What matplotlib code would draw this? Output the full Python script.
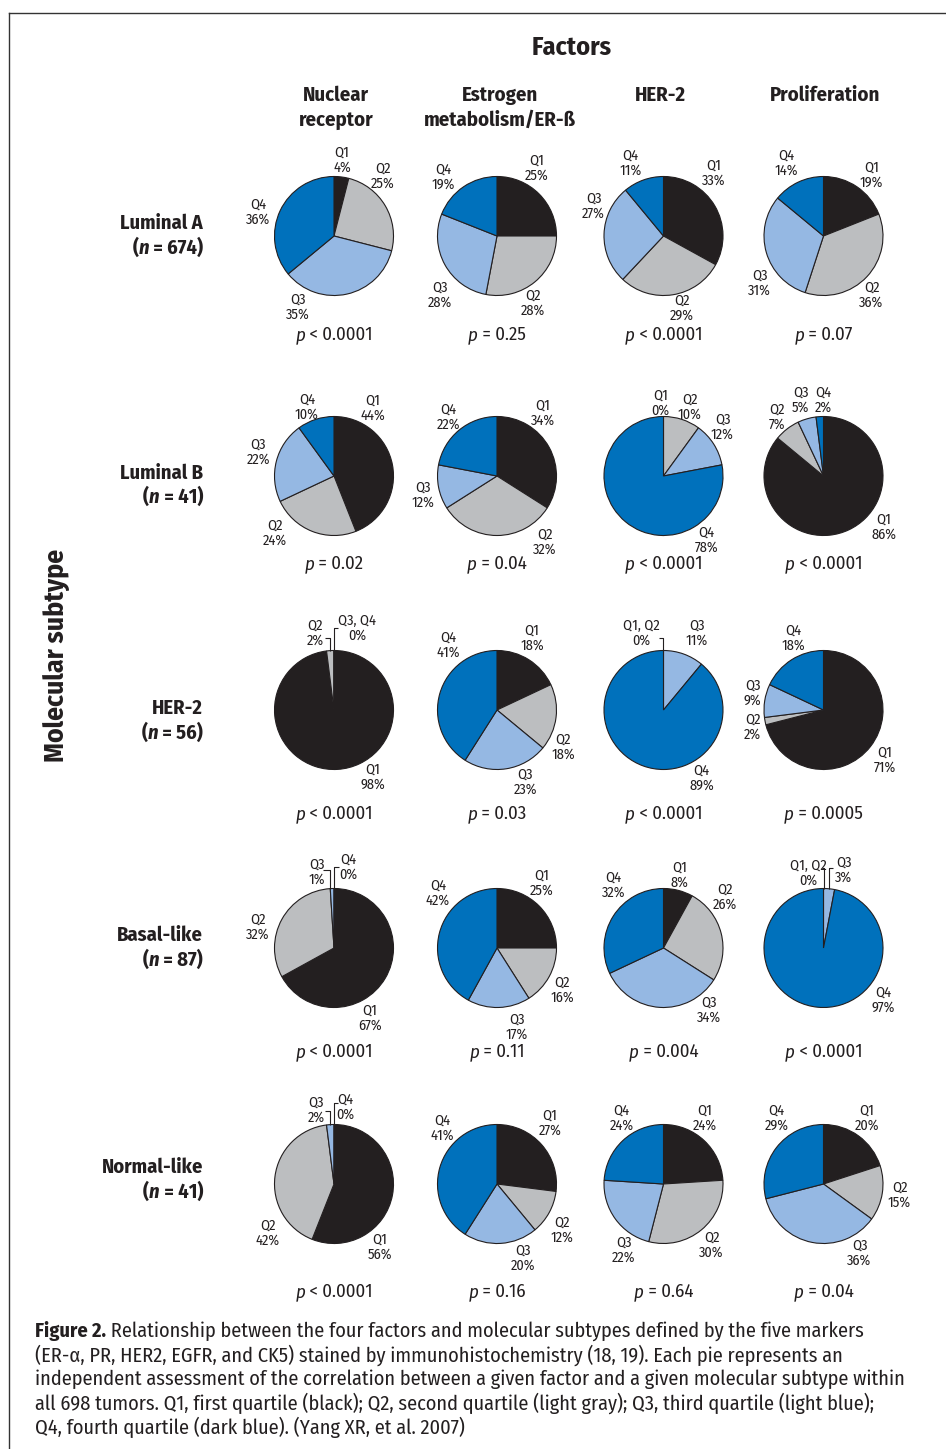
import matplotlib
matplotlib.use("Agg")
import numpy as np
import matplotlib.pyplot as plt
from matplotlib import font_manager
from matplotlib.font_manager import FontProperties

W, H = 946, 1449

factors = ["Nuclear\nreceptor", "Estrogen\nmetabolism/ER-ß", "HER-2", "Proliferation"]
subtypes = ["Luminal A", "Luminal B", "HER-2", "Basal-like", "Normal-like"]
subtype_n = [674, 41, 56, 87, 41]
quartiles = ["Q1", "Q2", "Q3", "Q4"]

# % of tumours in Q1..Q4, one list per factor (NR, estrogen, HER-2, proliferation)
luminal_a = [[4, 25, 35, 36], [25, 28, 28, 19], [33, 29, 27, 11], [19, 36, 31, 14]]
luminal_b = [[44, 24, 22, 10], [34, 32, 12, 22], [0, 10, 12, 78], [86, 7, 5, 2]]
her2 = [[98, 2, 0, 0], [18, 18, 23, 41], [0, 0, 11, 89], [71, 2, 9, 18]]
basal_like = [[67, 32, 1, 0], [25, 16, 17, 42], [8, 26, 34, 32], [0, 0, 3, 97]]
normal_like = [[56, 42, 2, 0], [27, 12, 20, 41], [24, 30, 22, 24], [20, 15, 36, 29]]
pie_rows = [luminal_a, luminal_b, her2, basal_like, normal_like]

p_values = [
    ["< 0.0001", "= 0.25", "< 0.0001", "= 0.07"],
    ["= 0.02", "= 0.04", "< 0.0001", "< 0.0001"],
    ["< 0.0001", "= 0.03", "< 0.0001", "= 0.0005"],
    ["< 0.0001", "= 0.11", "= 0.004", "< 0.0001"],
    ["< 0.0001", "= 0.16", "= 0.64", "= 0.04"],
]

caption = [
    "Relationship between the four factors and molecular subtypes defined by the five markers",
    "(ER-\u03b1, PR, HER2, EGFR, and CK5) stained by immunohistochemistry (18, 19). Each pie represents an",
    "independent assessment of the correlation between a given factor and a given molecular subtype within",
    "all 698 tumors. Q1, first quartile (black); Q2, second quartile (light gray); Q3, third quartile (light blue);",
    "Q4, fourth quartile (dark blue). (Yang XR, et al. 2007)",
]

# ---- layout (pixels) ----
col_x = [334, 497, 663.5, 823.5]
row_y = [236, 476, 710, 948, 1184]
R = 59.5
p_y = [335, 564, 814, 1052, 1292]
row_label_y = [(223, 248), (473, 497), (708, 733), (935, 960), (1167, 1192)]

# label offsets from the pie centre, in the order of the generated labels
label_pos = [
    [[(8, -76), (49, -60), (-36, 71), (-76, -24)],
     [(40, -68), (36, 67), (-57, 59), (-54, -59)],
     [(50, -63), (18, 72), (-70, -30), (-33, -73)],
     [(48, -61), (48, 59), (-64, 47), (-37, -73)]],
    [[(39, -68), (-59, 57), (-76, -24), (-27, -69)],
     [(46, -63), (48, 66), (-74, 19), (-49, -59)],
     [(-3, -73), (26, -69), (59, -49), (43, 64)],
     [(60, 51), (-47, -59), (-23, -76), (0, -76)]],
    [[(39, 67), (-19, -77), (23, -82)],
     [(35, -72), (66, 37), (28, 72), (-49, -65)],
     [(-22, -77), (33, -77), (38, 68)],
     [(61, 50), (-71, 17), (-71, -17), (-30, -72)]],
    [[(36, 70), (-76, -21), (-17, -76), (14, -81)],
     [(45, -65), (65, 42), (20, 79), (-59, -55)],
     [(16, -73), (61, -51), (45, 62), (-50, -63)],
     [(-15, -75), (20, -78), (60, 52)]],
    [[(46, 63), (-66, 49), (-18, -74), (11, -77)],
     [(53, -61), (65, 46), (26, 74), (-55, -56)],
     [(41, -66), (48, 61), (-40, 66), (-42, -66)],
     [(43, -66), (76, 11), (36, 69), (-47, -66)]],
]
# leader brackets for tiny slices: (x offset, top y offset, tick length)
brackets = {
    (2, 0): [(-4, -72, -5), (-0.5, -82, 4)],
    (2, 2): [(-1, -72, -3.5)],
    (3, 0): [(-4, -78, -7), (-0.5, -81, 5)],
    (3, 3): [(0.8, -80, -2.5), (5.8, -80, 3.5)],
    (4, 0): [(-4, -73, -5), (-0.5, -81, 4)],
}

q_colors = ["#231f20", "#bcbec0", "#95b8e3", "#0071bc"]
INK = "#231f20"

# ---- fonts: a condensed humanist sans with static regular/bold/italic files ----
entries = font_manager.fontManager.ttflist


def wnum(w):
    if isinstance(w, (int, float)):
        return int(w)
    return font_manager.weight_dict.get(str(w).lower(), 400)


def family_files(name):
    got = {}
    for f in entries:
        if f.name != name or "[" in f.fname:
            continue
        w, it = wnum(f.weight), f.style != "normal"
        if w == 400 and not it:
            got["r"] = f.fname
        elif w == 700 and not it:
            got["b"] = f.fname
        elif w == 400 and it:
            got["i"] = f.fname
        elif w == 700 and it:
            got["bi"] = f.fname
    return got


FILES = None
for fam in ["Fira Sans Condensed", "IBM Plex Sans Condensed", "Asap Condensed",
            "PT Sans Narrow", "Liberation Sans Narrow", "Liberation Sans"]:
    got = family_files(fam)
    if "r" in got and "b" in got:
        got.setdefault("i", got["r"])
        got.setdefault("bi", got["b"])
        FILES = got
        break
if FILES is None:
    FILES = {k: font_manager.findfont(FontProperties(family="DejaVu Sans", weight=w, style=s))
             for k, w, s in [("r", "normal", "normal"), ("b", "bold", "normal"),
                             ("i", "normal", "italic"), ("bi", "bold", "italic")]}

fig = plt.figure(figsize=(W / 100, H / 100), dpi=100)
ax = fig.add_axes([0, 0, 1, 1])
renderer = fig.canvas.get_renderer()


def fp(size, kind="r"):
    return FontProperties(fname=FILES[kind], size=size)


def width(s, prop):
    w, h, d = renderer.get_text_width_height_descent(s, prop, ismath=False)
    return w


def fit(s, target, kind="r"):
    # font size that gives the text the width it has in the reference
    return 10 * target / width(s, fp(10, kind))


def put_runs(x, y, runs, size, ha="left"):
    props = [fp(size, k) for s, k in runs]
    ws = [width(s, p) for (s, k), p in zip(runs, props)]
    tot = sum(ws)
    if ha == "center":
        x -= tot / 2
    elif ha == "right":
        x -= tot
    for (s, k), p, w in zip(runs, props, ws):
        ax.text(x, y, s, fontproperties=p, color=INK, ha="left", va="center")
        x += w


def pie_labels(vals):
    out = []
    k = 0
    while k < 4:
        if vals[k] == 0:
            grp = [k]
            while k + 1 < 4 and vals[k + 1] == 0:
                k += 1
                grp.append(k)
            out.append(", ".join(quartiles[g] for g in grp) + "\n0%")
        else:
            out.append(f"{quartiles[k]}\n{vals[k]}%")
        k += 1
    return out


s_lab = fit("36%", 24.5)
s_p = fit("p < 0.0001", 78)
s_row = fit("Normal-like", 102, "b")
s_head = fit("Proliferation", 111, "b")
s_fac = fit("Factors", 80, "b")
s_mol = fit("Molecular subtype", 214, "b")
s_cap = fit(caption[2], 870)

# ---- pies ----
for i, row in enumerate(pie_rows):
    for j, vals in enumerate(row):
        cx, cy = col_x[j], row_y[i]
        ax.pie(vals, colors=q_colors, center=(cx, cy), radius=R,
               startangle=-90, counterclock=True,
               wedgeprops=dict(edgecolor=INK, linewidth=0.8))
        for lab, (dx, dy) in zip(pie_labels(vals), label_pos[i][j]):
            ax.text(cx + dx, cy + dy, lab, fontproperties=fp(s_lab), color=INK,
                    ha="center", va="center", linespacing=1.05)
        for xo, yt, tick in brackets.get((i, j), []):
            y0 = cy - np.sqrt(R ** 2 - xo ** 2)
            ax.plot([cx + xo, cx + xo, cx + xo + tick], [y0, cy + yt, cy + yt],
                    color=INK, lw=0.8, solid_capstyle="butt")
        put_runs(cx, p_y[i], [("p", "i"), (" " + p_values[i][j], "r")], s_p, ha="center")

ax.set_xlim(0, W)
ax.set_ylim(H, 0)
ax.set_aspect("auto")
ax.axis("off")

# ---- headers and row labels ----
ax.text(572, 48, "Factors", fontproperties=fp(s_fac, "b"), color=INK, ha="center", va="center")
head_x = [336, 500, 660, 825]
for x, f in zip(head_x, factors):
    ax.text(x, 86, f, fontproperties=fp(s_head, "b"), color=INK, ha="center", va="top",
            linespacing=1.35)
ax.text(57, 655, "Molecular subtype", fontproperties=fp(s_mol, "b"), color=INK,
        ha="center", va="center", rotation=90)
for (y1, y2), name, n in zip(row_label_y, subtypes, subtype_n):
    put_runs(203, y1, [(name, "b")], s_row, ha="right")
    put_runs(203, y2, [("(", "b"), ("n", "bi"), (f" = {n})", "b")], s_row, ha="right")

# ---- caption ----
cap_y = [1331, 1355, 1379, 1403, 1427]
put_runs(35, cap_y[0], [("Figure 2.", "b"), (" " + caption[0], "r")], s_cap)
for y, line in zip(cap_y[1:], caption[1:]):
    put_runs(35, y, [(line, "r")], s_cap)

# frame
ax.plot([8.5, W], [12.5, 12.5], color="#333333", lw=1.0)
ax.plot([8.5, 8.5], [12.5, H], color="#333333", lw=1.0)

fig.savefig("out.png", dpi=100)
